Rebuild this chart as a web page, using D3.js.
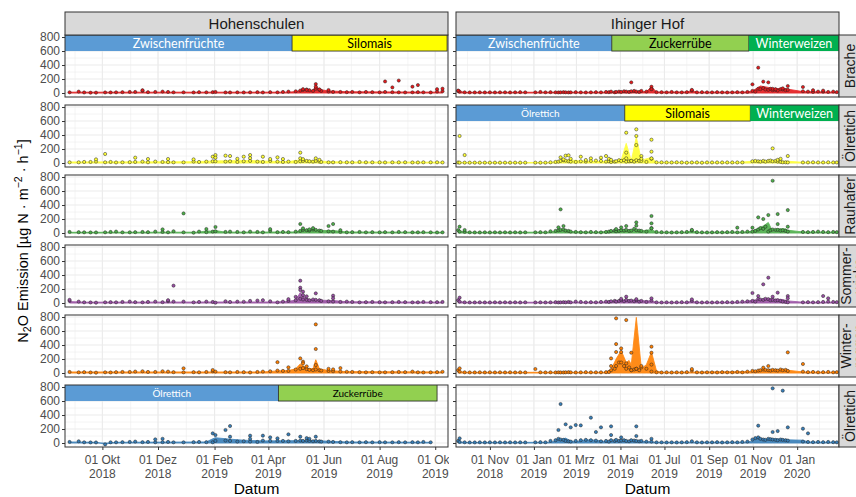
<!DOCTYPE html>
<html>
<head>
<meta charset="utf-8">
<script src="https://cdn.jsdelivr.net/npm/d3@7"></script>
<style>
  body { margin: 0; background: #fff; }
</style>
</head>
<body>
<script>
/*
N2O emissions at Hohenschulen and Ihinger Hof, one panel per site and treatment.
Points are single chamber measurements, the filled area is the treatment mean.
*/

var w = 856;
var h = 497;

// sampling dates per site
var hsDates = ["2018-08-26","2018-09-05","2018-09-11","2018-09-18","2018-09-24",
  "2018-10-04","2018-10-10","2018-10-16","2018-10-23","2018-10-31",
  "2018-11-06","2018-11-14","2018-11-20","2018-11-28","2018-12-06",
  "2018-12-12","2018-12-18","2018-12-29","2019-01-09","2019-01-15",
  "2019-01-23","2019-01-30","2019-02-02","2019-02-13","2019-02-18",
  "2019-02-26","2019-03-05","2019-03-12","2019-03-20","2019-03-26",
  "2019-04-03","2019-04-11","2019-04-17","2019-04-23","2019-05-01",
  "2019-05-06","2019-05-09","2019-05-13","2019-05-16","2019-05-20",
  "2019-05-23","2019-05-27","2019-05-29","2019-06-06","2019-06-11",
  "2019-06-19","2019-06-26","2019-07-02","2019-07-10","2019-07-17",
  "2019-07-24","2019-08-01","2019-08-07","2019-08-15","2019-08-22",
  "2019-08-29","2019-09-06","2019-09-12","2019-09-18","2019-09-26",
  "2019-10-03","2019-10-09"];

var ihDates = ["2018-09-18","2018-09-20","2018-09-27","2018-10-04","2018-10-11",
  "2018-10-18","2018-10-25","2018-11-01","2018-11-08","2018-11-15",
  "2018-11-22","2018-11-29","2018-12-06","2018-12-13","2018-12-20",
  "2019-01-03","2019-01-10","2019-01-17","2019-01-24","2019-01-31",
  "2019-02-04","2019-02-07","2019-02-11","2019-02-14","2019-02-18",
  "2019-02-21","2019-02-28","2019-03-07","2019-03-14","2019-03-21",
  "2019-03-28","2019-04-04","2019-04-11","2019-04-15","2019-04-18",
  "2019-04-23","2019-04-25","2019-04-29","2019-05-02","2019-05-06",
  "2019-05-09","2019-05-13","2019-05-16","2019-05-20","2019-05-23",
  "2019-05-27","2019-05-30","2019-06-06","2019-06-13","2019-06-20",
  "2019-06-27","2019-07-04","2019-07-11","2019-07-18","2019-07-25",
  "2019-08-01","2019-08-08","2019-08-15","2019-08-22","2019-08-29",
  "2019-09-05","2019-09-12","2019-09-19","2019-09-26","2019-10-03",
  "2019-10-10","2019-10-17","2019-10-24","2019-10-31","2019-11-04",
  "2019-11-08","2019-11-11","2019-11-15","2019-11-18","2019-11-22",
  "2019-11-25","2019-11-28","2019-12-02","2019-12-05","2019-12-09",
  "2019-12-12","2019-12-16","2019-12-19","2020-01-09","2020-01-16",
  "2020-01-23","2020-01-30","2020-02-06","2020-02-13","2020-02-20",
  "2020-02-25"];

// Hohenschulen: low values per date, higher single measurements, mean area
var hsBracheBase = [10,20,8,5,5, 8,8,10,12,15, 15,30,12,15,20, 15,10,10,8,12, 10,12,15,8,8, 10,8,10,12,8, 12,10,15,20,25, 35,45,50,40,30, 60,45,30,20,15, 15,12,15,10,15, 12,10,15,12,10, 8,10,12,10,8, 20,25];
var hsBracheHi = [["2018-11-14",40],["2019-05-09",55],["2019-05-13",45],["2019-05-23",128],["2019-05-23",90],["2019-05-27",52],["2019-06-06",43],
  ["2019-08-07",165],["2019-08-15",80],["2019-08-22",178],["2019-09-06",90],["2019-09-12",114],["2019-10-03",55],["2019-10-09",62]];
var hsBracheArea = [["2018-08-26",12],["2019-04-23",12],["2019-05-01",20],["2019-05-06",35],["2019-05-13",45],["2019-05-20",30],
  ["2019-05-23",110],["2019-05-27",50],["2019-06-06",30],["2019-06-26",18],["2019-10-09",12]];

var hsOelBase = [10,10,15,15,20, 10,15,8,10,12, 15,20,10,20,15, 12,10,10,20,15, 20,25,25,20,25, 15,25,30,20,15, 30,20,15,20,15, 25,30,30,25,20, 30,20,15,10,10, 12,10,10,15,10, 10,10,8,10,10, 10,8,8,10,10, 10,8];
var hsOelHi = [["2018-09-24",52],["2018-10-04",129],["2018-11-06",76],["2018-11-20",57],["2018-12-12",57],["2019-01-09",52],["2019-01-30",90],
  ["2019-02-02",114],["2019-02-02",76],["2019-02-13",105],["2019-02-18",100],["2019-02-26",60],["2019-03-05",90],["2019-03-12",114],
  ["2019-03-12",70],["2019-03-26",90],["2019-04-03",57],["2019-04-11",81],["2019-04-17",57],["2019-05-06",148],["2019-05-06",67],
  ["2019-05-09",55],["2019-05-23",67],["2019-05-27",45]];
var hsOelArea = [["2018-08-26",15],["2019-01-09",18],["2019-01-30",30],["2019-03-12",35],["2019-04-03",25],["2019-04-23",20],
  ["2019-05-06",45],["2019-05-20",35],["2019-05-29",25],["2019-06-19",15],["2019-10-09",12]];

var hsRauBase = [15,12,10,8,8, 10,15,20,10,10, 12,15,12,20,15, 10,25,10,5,20, 12,20,25,15,20, 15,10,20,15,10, 30,12,15,12,20, 30,45,40,35,50, 45,35,30,25,20, 15,10,12,15,10, 12,10,12,10,15, 12,10,10,12,10, 8,10];
var hsRauHi = [["2018-12-06",52],["2018-12-29",280],["2019-01-23",57],["2019-02-02",86],["2019-04-03",55],["2019-05-06",129],
  ["2019-05-09",67],["2019-05-16",52],["2019-05-20",70],["2019-06-06",100],["2019-06-11",129],["2019-06-19",40]];
var hsRauArea = [["2018-08-26",10],["2019-01-15",12],["2019-01-23",30],["2019-01-30",25],["2019-02-02",35],["2019-02-13",12],
  ["2019-05-01",15],["2019-05-06",35],["2019-05-13",40],["2019-05-23",45],["2019-05-29",35],["2019-06-11",35],["2019-06-26",15],["2019-10-09",10]];

var hsSomBase = [30,20,10,8,5, 10,12,10,15,20, 12,10,15,20,12, 25,20,20,10,15, 20,15,5,25,15, 20,18,30,35,40, 25,10,20,30,40, 60,50,45,40,50, 45,40,30,25,20, 15,20,15,10,12, 15,12,10,12,15, 12,10,10,15,12, 12,15];
var hsSomHi = [["2018-08-26",45],["2018-12-12",40],["2018-12-18",248],["2019-04-23",55],["2019-05-01",88],["2019-05-06",319],["2019-05-06",219],
  ["2019-05-06",186],["2019-05-09",162],["2019-05-09",114],["2019-05-13",95],["2019-05-23",138],["2019-06-11",105],["2019-06-11",67]];
var hsSomArea = [["2018-08-26",20],["2018-09-11",12],["2019-04-11",15],["2019-04-23",25],["2019-05-01",40],["2019-05-06",150],
  ["2019-05-09",100],["2019-05-16",50],["2019-05-27",40],["2019-06-11",35],["2019-06-26",18],["2019-10-09",12]];

var hsWroBase = [15,10,12,8,5, 10,8,12,15,15, 20,25,15,15,25, 20,12,10,12,10, 15,25,20,12,10, 15,12,8,15,20, 25,35,30,30,50, 60,70,55,45,40, 50,40,35,30,25, 20,18,15,12,10, 12,10,10,12,15, 12,20,10,8,10, 12,18];
var hsWroHi = [["2018-12-29",67],["2019-01-30",43],["2019-04-11",155],["2019-04-23",81],["2019-05-06",209],["2019-05-09",162],
  ["2019-05-09",138],["2019-05-13",95],["2019-05-23",695],["2019-05-23",343],["2019-05-23",114],["2019-06-06",60],["2019-06-11",52],["2019-06-19",70]];
var hsWroArea = [["2018-08-26",15],["2019-03-26",15],["2019-04-11",30],["2019-04-23",35],["2019-05-01",60],["2019-05-06",130],
  ["2019-05-13",70],["2019-05-20",60],["2019-05-23",190],["2019-05-27",60],["2019-06-06",35],["2019-06-26",20],["2019-10-09",15]];

var hsOel6Base = [15,25,10,8,8, -20,10,10,12,15, 20,12,15,10,12, 15,10,10,12,15, 12,10,30,35,30, 20,25,20,15,35, 30,30,30,25,30, 35,30,35,30,25, 30,25,20,20,15, 12,10,12,10,12, 10,12,10,10,12, 10,12,10,15,10, null,null];
var hsOel6Hi = [["2018-11-28",52],["2018-12-06",60],["2019-01-30",138],["2019-02-02",114],["2019-02-13",186],["2019-02-18",243],
  ["2019-02-18",90],["2019-03-12",105],["2019-03-12",60],["2019-03-26",105],["2019-04-03",81],["2019-04-11",67],["2019-04-23",124],
  ["2019-05-06",90],["2019-05-13",70],["2019-05-16",60],["2019-05-23",90]];
var hsOel6Area = [["2018-08-26",15],["2018-09-24",10],["2018-10-04",-15],["2018-10-16",10],["2019-01-23",15],["2019-01-30",60],
  ["2019-02-02",75],["2019-02-18",55],["2019-03-05",40],["2019-03-26",30],["2019-05-23",35],["2019-06-06",25],["2019-06-26",15],["2019-09-26",10]];

// Ihinger Hof
var ihBracheBase = [30,20,10,8,8,10,8,10,8,10, 10,8,10,12,10,10,15,10,12,10, 8,10,12,10,8,10,12,10,8,10, 12,10,15,12,20,10,15,20,15,25,
  20,15,25,30,20,15,30,20,60,12, 12,10,15,10,10,12,35,10,12,10, 10,12,10,8,10,12,10,15,30,20, 60,55,70,50,45,60,40,45,35,55,
  50,40,45,25,20,15,20,18,15,20, 12];
var ihBracheHi = [["2018-09-18",35],["2019-05-16",152],["2019-06-13",90],["2019-06-13",55],["2019-08-08",45],["2019-10-31",124],
  ["2019-11-08",362],["2019-11-15",162],["2019-11-22",152],["2019-11-28",60],["2019-12-02",55],["2019-12-12",67],["2019-12-19",100],
  ["2020-01-09",86],["2020-01-23",40],["2020-02-06",35]];
var ihBracheArea = [["2018-09-18",25],["2018-09-27",10],["2019-04-29",12],["2019-05-13",25],["2019-05-20",15],["2019-06-06",20],
  ["2019-06-13",90],["2019-06-20",15],["2019-08-01",15],["2019-08-08",35],["2019-08-15",12],["2019-10-24",15],["2019-10-31",30],
  ["2019-11-11",100],["2019-11-22",80],["2019-12-02",60],["2019-12-12",70],["2019-12-19",55],["2020-01-09",20],["2020-02-25",12]];

var ihOelBase = [8,5,5,5,5,5,5,5,5,5, 5,5,5,5,5,5,5,5,10,15, 20,30,40,35,25,20,15,25,20,30, 35,30,20,25,15,20,25,40,30,40,
  20,25,30,20,40,30,30,15,60,10, 10,8,8,10,8,5,8,8,5,8, 8,8,8,8,8,8,8,null,25,30, 25,20,30,20,30,35,25,30,20,15,
  10,10,8,8,8,10,8,8,10,8, 8];
var ihOelHi = [["2018-09-20",386],["2018-09-27",114],["2019-02-07",81],["2019-02-11",52],["2019-02-14",105],["2019-02-18",110],
  ["2019-02-21",60],["2019-03-07",90],["2019-03-14",43],["2019-03-21",67],["2019-04-04",76],["2019-04-11",100],["2019-04-15",60],
  ["2019-04-18",45],["2019-05-09",433],["2019-05-09",148],["2019-05-09",67],["2019-05-16",30],["2019-05-23",481],["2019-05-23",386],
  ["2019-05-23",257],["2019-05-30",100],["2019-05-30",60],["2019-06-13",333],["2019-06-13",162],["2019-06-13",67],["2019-11-28",209],
  ["2019-12-05",45],["2019-12-09",60],["2019-12-19",100]];
var ihOelArea = [["2018-09-18",8],["2019-01-24",8],["2019-02-07",30],["2019-02-18",45],["2019-03-07",30],["2019-03-28",20],
  ["2019-04-18",25],["2019-04-29",20],["2019-05-02",40],["2019-05-09",281],["2019-05-16",30],["2019-05-23",371],["2019-05-30",40],
  ["2019-06-13",80],["2019-06-20",10],["2019-10-10",8],["2019-10-31",25],["2019-11-28",30],["2019-12-19",25],["2020-01-09",10],["2020-02-25",8]];

var ihRauBase = [40,20,15,10,8,8,10,8,10,8, 10,8,10,8,10,10,12,10,25,30, 40,45,50,35,30,20,15,12,10,15, 12,10,15,20,30,35,25,30,40,35,
  45,30,35,60,40,35,30,20,70,15, 12,10,8,10,12,15,35,12,10,8, 10,12,10,12,15,10,15,20,20,30, 50,70,60,90,20,40,50,45,45,35,
  40,30,20,15,12,15,20,15,12,15, 12];
var ihRauHi = [["2018-09-20",90],["2018-09-27",43],["2019-02-04",81],["2019-02-07",338],["2019-02-11",100],["2019-04-25",57],
  ["2019-05-02",80],["2019-05-09",100],["2019-05-23",152],["2019-05-23",105],["2019-06-13",243],["2019-06-13",138],["2019-06-13",67],
  ["2019-08-08",45],["2019-10-10",76],["2019-10-31",76],["2019-11-08",224],["2019-11-15",200],["2019-11-22",257],["2019-11-28",747],
  ["2019-12-05",271],["2019-12-05",128],["2019-12-19",328],["2019-12-19",90]];
var ihRauArea = [["2018-09-18",30],["2018-10-04",10],["2019-01-24",12],["2019-02-04",40],["2019-02-11",55],["2019-02-21",20],
  ["2019-03-28",12],["2019-04-18",25],["2019-05-02",35],["2019-05-16",40],["2019-05-30",30],["2019-06-13",50],["2019-06-20",12],
  ["2019-08-01",12],["2019-08-08",30],["2019-08-15",10],["2019-10-24",15],["2019-10-31",30],["2019-11-15",100],["2019-11-22",150],
  ["2019-11-28",20],["2019-12-05",60],["2019-12-16",60],["2019-12-19",40],["2020-01-09",15],["2020-02-25",12]];

var ihSomBase = [40,20,10,8,8,10,8,8,10,8, 10,8,10,8,10,8,10,8,10,12, 8,10,12,10,15,10,20,15,10,12, 10,15,20,15,25,30,20,30,40,25,
  45,30,35,25,40,20,30,15,35,10, 8,10,8,10,12,10,30,10,8,10, 8,10,10,12,10,15,20,25,30,20, 60,50,45,60,55,40,45,35,40,30,
  20,15,10,10,12,10,12,15,20,15, 12];
var ihSomHi = [["2018-09-20",76],["2019-05-02",60],["2019-05-09",90],["2019-05-23",55],["2019-06-13",67],["2019-08-08",52],
  ["2019-10-31",143],["2019-11-08",100],["2019-11-15",267],["2019-11-22",362],["2019-11-28",90],["2019-12-05",148],["2019-12-19",100],
  ["2019-12-19",67],["2020-02-06",100],["2020-02-13",67]];
var ihSomArea = [["2018-09-18",25],["2018-09-27",10],["2019-04-04",12],["2019-04-18",25],["2019-05-09",40],["2019-05-23",35],
  ["2019-06-13",30],["2019-06-20",10],["2019-08-01",10],["2019-08-08",25],["2019-08-15",10],["2019-10-17",12],["2019-10-31",40],
  ["2019-11-22",60],["2019-12-12",50],["2019-12-19",30],["2020-01-09",12],["2020-02-25",10]];

var ihWroBase = [40,20,10,8,8,10,8,10,8,10, 8,10,8,10,8,57,10,8,10,8, 10,8,8,10,12,10,8,10,12,10, 10,10,12,15,40,60,100,150,300,100,
  60,80,40,50,60,40,80,60,20,10, 8,10,8,10,8,12,35,10,8,10, 10,8,12,10,10,15,10,20,30,25, 35,40,50,45,40,35,45,40,35,50,
  40,45,30,20,12,15,10,12,15,10, 12];
var ihWroHi = [["2018-09-20",67],["2019-04-18",209],["2019-04-18",100],["2019-04-25",781],["2019-04-25",414],["2019-04-25",300],
  ["2019-05-02",352],["2019-05-02",150],["2019-05-09",757],["2019-05-09",138],["2019-05-16",290],["2019-05-16",40],["2019-05-23",60],
  ["2019-05-30",100],["2019-06-13",376],["2019-06-13",290],["2019-06-13",120],["2019-08-08",57],["2019-11-15",76],["2019-11-22",100],
  ["2019-12-19",295],["2020-01-09",129]];
var ihWroArea = [["2018-09-18",25],["2018-09-27",10],["2019-04-11",10],["2019-04-18",50],["2019-04-25",200],["2019-05-02",320],
  ["2019-05-09",150],["2019-05-13",180],["2019-05-16",120],["2019-05-23",795],["2019-05-30",60],["2019-06-06",120],["2019-06-13",300],
  ["2019-06-20",30],["2019-06-27",10],["2019-10-31",20],["2019-11-22",45],["2019-12-19",40],["2020-01-09",15],["2020-02-25",10]];

var ihOel6Base = [30,15,10,8,8,10,8,10,8,10, 8,10,8,10,8,10,12,10,30,40, 60,50,45,30,25,20,30,40,45,40, 35,25,30,20,40,30,45,30,35,40,
  30,25,40,35,30,25,30,20,20,10, 10,8,10,8,10,12,25,10,8,10, 10,12,8,10,12,10,15,20,50,70, 80,60,50,45,60,55,50,45,40,50,
  45,40,35,20,15,12,15,12,15,12, 10];
var ihOel6Hi = [["2018-09-20",67],["2019-02-04",186],["2019-02-07",557],["2019-02-14",267],["2019-02-21",224],["2019-02-28",257],
  ["2019-03-07",252],["2019-03-21",362],["2019-03-28",157],["2019-04-04",224],["2019-04-18",238],["2019-04-18",114],["2019-05-02",80],
  ["2019-05-23",238],["2019-05-23",100],["2019-06-13",60],["2019-11-08",248],["2019-11-28",781],["2019-11-28",157],["2019-12-05",171],
  ["2019-12-12",748],["2019-12-19",224],["2020-01-09",205],["2020-01-16",138]];
var ihOel6Area = [["2018-09-18",20],["2018-09-27",8],["2019-01-24",10],["2019-02-04",40],["2019-02-14",70],["2019-02-21",30],
  ["2019-02-28",20],["2019-03-14",45],["2019-03-28",40],["2019-04-11",20],["2019-04-29",25],["2019-05-23",30],["2019-06-06",20],
  ["2019-06-20",10],["2019-10-24",12],["2019-10-31",30],["2019-11-08",80],["2019-11-18",45],["2019-11-28",60],["2019-12-12",55],
  ["2019-12-19",45],["2020-01-09",40],["2020-01-16",15],["2020-02-25",10]];

// crop sequence bars: [crop, start, end]
var hsCrops1 = [["Zwischenfrüchte","2018-08-21","2019-04-27"],["Silomais","2019-04-27","2019-10-14"]];
var hsCrops6 = [["Ölrettich","2018-08-21","2019-04-12"],["Zuckerrübe","2019-04-12","2019-10-03"]];
var ihCrops1 = [["Zwischenfrüchte","2018-09-15","2019-04-19"],["Zuckerrübe","2019-04-19","2019-10-26"],["Winterweizen","2019-10-26","2020-02-28"]];
var ihCrops2 = [["Ölrettich","2018-09-15","2019-05-07"],["Silomais","2019-05-07","2019-10-28"],["Winterweizen","2019-10-28","2020-02-28"]];
var cropBarRange = [600, 900];

// axes
var sites = ["Hohenschulen", "Ihinger Hof"];
var treatments = [["Brache"], ["Ölrettich"], ["Rauhafer"], ["Sommer-", "wicke"], ["Winter-", "roggen"], ["Ölrettich"]];
var yTicks = [0, 200, 400, 600, 800];
var yMinor = [100, 300, 500, 700];
var hsTickDates = ["2018-10-01","2018-12-01","2019-02-01","2019-04-01","2019-06-01","2019-08-01","2019-10-01"];
var hsTickLabels = [["01 Okt","2018"],["01 Dez","2018"],["01 Feb","2019"],["01 Apr","2019"],["01 Jun","2019"],["01 Aug","2019"],["01 Okt","2019"]];
var ihTickDates = ["2018-11-01","2019-01-01","2019-03-01","2019-05-01","2019-07-01","2019-09-01","2019-11-01","2020-01-01"];
var ihTickLabels = [["01 Nov","2018"],["01 Jan","2019"],["01 Mrz","2019"],["01 Mai","2019"],["01 Jul","2019"],["01 Sep","2019"],["01 Nov","2019"],["01 Jan","2020"]];

var parse = d3.timeParse("%Y-%m-%d");

window.onload = function() {

  var font = "'Liberation Sans', Arial, sans-serif";
  var rowColor = ["#E41A1C", "#FFFF33", "#4DAF4A", "#984EA3", "#FF7F00", "#377EB8"];
  var cropFill = {"Zwischenfrüchte": "#5B9BD5", "Ölrettich": "#5B9BD5", "Silomais": "#FFFF00",
                  "Zuckerrübe": "#92D050", "Winterweizen": "#00B050"};
  var cropInk = {"Zwischenfrüchte": "#ffffff", "Ölrettich": "#ffffff", "Silomais": "#000000",
                 "Zuckerrübe": "#000000", "Winterweizen": "#ffffff"};

  var cols = [
    {x0: 65, x1: 448, domain: ["2018-08-21", "2019-10-15"], dates: hsDates, ticks: hsTickDates, labels: hsTickLabels},
    {x0: 456, x1: 839, domain: ["2018-09-15", "2020-02-28"], dates: ihDates, ticks: ihTickDates, labels: ihTickLabels}
  ];
  var rowTop = [35, 105, 175, 245, 315, 385];
  var panelH = 62;
  var yDomain = [-57, 829];

  var panels = [
    {col: 0, row: 0, base: hsBracheBase, hi: hsBracheHi, area: hsBracheArea, crops: hsCrops1},
    {col: 0, row: 1, base: hsOelBase, hi: hsOelHi, area: hsOelArea},
    {col: 0, row: 2, base: hsRauBase, hi: hsRauHi, area: hsRauArea},
    {col: 0, row: 3, base: hsSomBase, hi: hsSomHi, area: hsSomArea},
    {col: 0, row: 4, base: hsWroBase, hi: hsWroHi, area: hsWroArea},
    {col: 0, row: 5, base: hsOel6Base, hi: hsOel6Hi, area: hsOel6Area, crops: hsCrops6},
    {col: 1, row: 0, base: ihBracheBase, hi: ihBracheHi, area: ihBracheArea, crops: ihCrops1},
    {col: 1, row: 1, base: ihOelBase, hi: ihOelHi, area: ihOelArea, crops: ihCrops2},
    {col: 1, row: 2, base: ihRauBase, hi: ihRauHi, area: ihRauArea},
    {col: 1, row: 3, base: ihSomBase, hi: ihSomHi, area: ihSomArea},
    {col: 1, row: 4, base: ihWroBase, hi: ihWroHi, area: ihWroArea},
    {col: 1, row: 5, base: ihOel6Base, hi: ihOel6Hi, area: ihOel6Area}
  ];

  var svg = d3.select("body")
              .append("svg")
              .attr("width", w)
              .attr("height", h)
              .style("font-family", font);

  svg.append("rect").attr("width", w).attr("height", h).attr("fill", "#ffffff");
  var defs = svg.append("defs");

  panels.forEach(function(p, k) {
    var col = cols[p.col];
    var top = rowTop[p.row];
    var x = d3.scaleTime().domain(col.domain.map(parse)).range([col.x0, col.x1]);
    var y = d3.scaleLinear().domain(yDomain).range([top + panelH, top]);

    defs.append("clipPath").attr("id", "clip" + k)
        .append("rect")
        .attr("x", col.x0).attr("y", top)
        .attr("width", col.x1 - col.x0).attr("height", panelH);

    var g = svg.append("g").attr("clip-path", "url(#clip" + k + ")");

    // grid: monthly minor lines, bi-monthly major lines
    var months = d3.timeMonth.range(x.domain()[0], x.domain()[1]);
    g.selectAll(".vminor").data(months).enter().append("line")
      .attr("x1", function(d) { return x(d); }).attr("x2", function(d) { return x(d); })
      .attr("y1", top).attr("y2", top + panelH)
      .attr("stroke", "#EBEBEB").attr("stroke-width", 0.55);
    g.selectAll(".hminor").data(yMinor).enter().append("line")
      .attr("x1", col.x0).attr("x2", col.x1)
      .attr("y1", function(d) { return y(d); }).attr("y2", function(d) { return y(d); })
      .attr("stroke", "#EBEBEB").attr("stroke-width", 0.55);
    g.selectAll(".vmajor").data(col.ticks).enter().append("line")
      .attr("x1", function(d) { return x(parse(d)); }).attr("x2", function(d) { return x(parse(d)); })
      .attr("y1", top).attr("y2", top + panelH)
      .attr("stroke", "#EBEBEB").attr("stroke-width", 1.1);
    g.selectAll(".hmajor").data(yTicks).enter().append("line")
      .attr("x1", col.x0).attr("x2", col.x1)
      .attr("y1", function(d) { return y(d); }).attr("y2", function(d) { return y(d); })
      .attr("stroke", "#EBEBEB").attr("stroke-width", 1.1);

    // crop bars on top of the panel
    if (p.crops) {
      var bars = g.selectAll(".crop").data(p.crops).enter().append("g");
      bars.append("rect")
          .attr("x", function(d) { return x(parse(d[1])); })
          .attr("width", function(d) { return x(parse(d[2])) - x(parse(d[1])); })
          .attr("y", y(cropBarRange[1]))
          .attr("height", y(cropBarRange[0]) - y(cropBarRange[1]))
          .attr("fill", function(d) { return cropFill[d[0]]; })
          .attr("stroke", function(d) { return cropInk[d[0]] == "#000000" ? "#222222" : "none"; })
          .attr("stroke-width", 0.8);
      bars.append("text")
          .attr("x", function(d) { return (x(parse(d[1])) + x(parse(d[2]))) / 2; })
          .attr("y", function(d) { return top + ((d[0] == "Ölrettich" || p.row == 5) ? 11.5 : 12.5); })
          .attr("text-anchor", "middle")
          .style("font-family", "Lato, 'Open Sans', sans-serif")
          .style("font-size", function(d) { return (d[0] == "Ölrettich" || p.row == 5) ? "10px" : "12.5px"; })
          .attr("fill", function(d) { return cropInk[d[0]]; })
          .text(function(d) { return d[0]; });
    }

    // mean emission area
    var area = d3.area()
                 .x(function(d) { return x(parse(d[0])); })
                 .y0(y(0))
                 .y1(function(d) { return y(d[1]); });
    g.append("path")
     .datum(p.area)
     .attr("d", area)
     .attr("fill", rowColor[p.row])
     .attr("stroke", rowColor[p.row])
     .attr("stroke-width", 0.9)
     .attr("opacity", 0.9);

    // single measurements
    var pts = [];
    p.base.forEach(function(v, i) {
      if (v != null && col.dates[i]) { pts.push([col.dates[i], v]); }
    });
    pts = pts.concat(p.hi);

    g.selectAll("circle").data(pts).enter().append("circle")
     .attr("cx", function(d) { return x(parse(d[0])); })
     .attr("cy", function(d) { return y(d[1]); })
     .attr("r", 1.6)
     .attr("fill", rowColor[p.row])
     .attr("stroke", "#222222")
     .attr("stroke-width", 0.5);

    // y axis (labels only in the left column)
    var yAxis = d3.axisLeft(y).tickValues(yTicks).tickSize(3).tickPadding(2)
                  .tickFormat(p.col == 0 ? d3.format("d") : "");
    var ya = svg.append("g").attr("transform", "translate(" + col.x0 + ",0)").call(yAxis);
    ya.select(".domain").remove();
    ya.selectAll("line").attr("stroke", "#333333");
    ya.selectAll("text").attr("fill", "#4D4D4D").style("font-size", "12px").style("font-family", font);

    // panel border
    svg.append("rect")
       .attr("x", col.x0).attr("y", top)
       .attr("width", col.x1 - col.x0).attr("height", panelH)
       .attr("fill", "none").attr("stroke", "#333333").attr("stroke-width", 1);

    // x axis below the last row
    if (p.row == 5) {
      var xAxis = d3.axisBottom(x).tickValues(col.ticks.map(parse)).tickSize(3).tickFormat("");
      var xa = svg.append("g").attr("transform", "translate(0," + (top + panelH) + ")").call(xAxis);
      xa.select(".domain").remove();
      xa.selectAll("line").attr("stroke", "#333333");

      defs.append("clipPath").attr("id", "xlab" + p.col)
          .append("rect").attr("x", col.x0 - 60).attr("y", top + panelH)
          .attr("width", col.x1 - col.x0 + 61 + (p.col == 1 ? 30 : 0)).attr("height", 40);

      var lab = svg.append("g").attr("clip-path", "url(#xlab" + p.col + ")")
                   .selectAll("text").data(col.labels).enter().append("text")
                   .attr("text-anchor", "middle")
                   .attr("fill", "#4D4D4D")
                   .style("font-size", "12px")
                   .attr("transform", function(d, i) {
                     return "translate(" + x(parse(col.ticks[i])) + "," + (top + panelH + 16.5) + ")";
                   });
      lab.append("tspan").attr("x", 0).attr("y", 0).text(function(d) { return d[0]; });
      lab.append("tspan").attr("x", 0).attr("y", 14.5).text(function(d) { return d[1]; });

      svg.append("text")
         .attr("x", (col.x0 + col.x1) / 2)
         .attr("y", 494)
         .attr("text-anchor", "middle")
         .attr("fill", "#000000")
         .style("font-size", "15.5px")
         .text("Datum");
    }
  });

  // site strips on top
  cols.forEach(function(col, i) {
    svg.append("rect")
       .attr("x", col.x0).attr("y", 12)
       .attr("width", col.x1 - col.x0).attr("height", 23)
       .attr("fill", "#D9D9D9").attr("stroke", "#333333").attr("stroke-width", 1);
    svg.append("text")
       .attr("x", (col.x0 + col.x1) / 2).attr("y", 28.5)
       .attr("text-anchor", "middle")
       .attr("fill", "#1A1A1A")
       .style("font-size", "15px")
       .text(sites[i]);
  });

  // treatment strips on the right
  treatments.forEach(function(t, i) {
    var top = rowTop[i];
    svg.append("rect")
       .attr("x", 839).attr("y", top)
       .attr("width", 34).attr("height", panelH)
       .attr("fill", "#D9D9D9").attr("stroke", "#333333").attr("stroke-width", 1);
    var base = t.length == 1 ? [855] : [851, 864];
    t.forEach(function(line, j) {
      svg.append("text")
         .attr("transform", "translate(" + base[j] + "," + (top + panelH / 2) + ") rotate(-90)")
         .attr("text-anchor", "middle")
         .attr("fill", "#1A1A1A")
         .style("font-size", "14px")
         .text(line);
    });
  });

  // y axis title with sub- and superscripts
  var yt = svg.append("text")
              .attr("transform", "translate(27.5,241) rotate(-90)")
              .attr("text-anchor", "middle")
              .attr("fill", "#000000")
              .style("font-size", "14.5px");
  yt.append("tspan").text("N");
  yt.append("tspan").attr("dy", 3.5).style("font-size", "10.5px").text("2");
  yt.append("tspan").attr("dy", -3.5).text("O Emission [µg N · m");
  yt.append("tspan").attr("dy", -6).style("font-size", "10.5px").text("−2");
  yt.append("tspan").attr("dy", 6).text(" · h");
  yt.append("tspan").attr("dy", -6).style("font-size", "10.5px").text("−1");
  yt.append("tspan").attr("dy", 6).text("]");
};
</script>
</body>
</html>
